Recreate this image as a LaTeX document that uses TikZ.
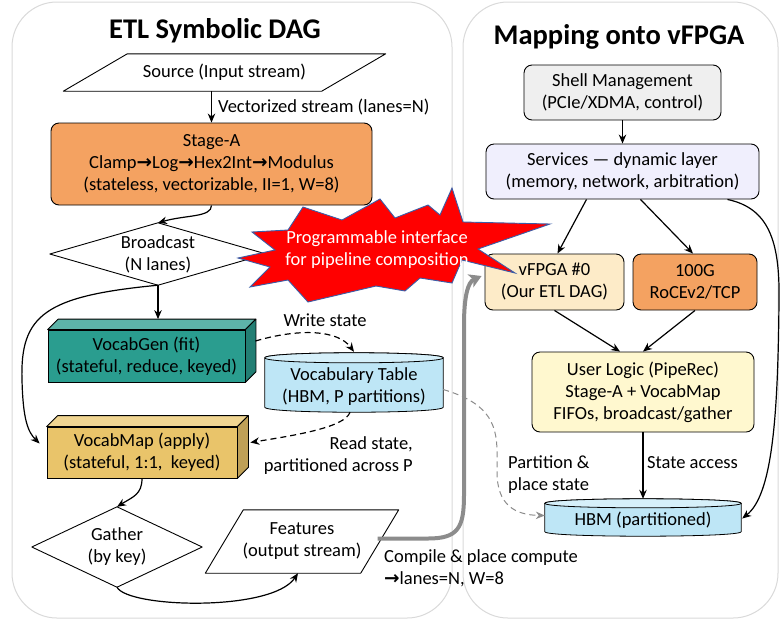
\documentclass[tikz,border=0pt]{standalone}
\usepackage{fontspec}
\setmainfont{Carlito}
\newfontfamily\symfont{DejaVu Sans}
\usetikzlibrary{arrows.meta,calc}

\definecolor{panelline}{HTML}{D9D9D9}
\definecolor{stageorange}{HTML}{F4A261}
\definecolor{tealfront}{HTML}{2A9D8F}
\definecolor{tealtop}{HTML}{5DB4A9}
\definecolor{tealside}{HTML}{237F74}
\definecolor{goldfront}{HTML}{E9C46A}
\definecolor{goldtop}{HTML}{F0D592}
\definecolor{goldside}{HTML}{BFA057}
\definecolor{tableblue}{HTML}{BEE6F6}
\definecolor{tabletop}{HTML}{D6F0FA}
\definecolor{shellgray}{HTML}{EFEFEF}
\definecolor{servlav}{HTML}{F0EFFD}
\definecolor{vfpeach}{HTML}{FDEBC8}
\definecolor{userlemon}{HTML}{FFF8CF}
\definecolor{burstred}{HTML}{FF0000}
\definecolor{burstedge}{HTML}{3A5DA8}
\definecolor{compilegray}{HTML}{8C8C8C}

% right arrow glyph used inside labels
\newcommand\arrowglyph{{\symfont\bfseries →}}

% 3-D box: top and side faces added to a filled front node
% #1 node, #2 top colour, #3 side colour, #4 depth
\newcommand\drawcuboid[4]{%
  \filldraw[fill=#2, line width=0.8pt, line join=round]
    (#1.north west) -- ([xshift=#4,yshift=#4]#1.north west)
    -- ([xshift=#4,yshift=#4]#1.north east) -- (#1.north east) -- cycle;
  \filldraw[fill=#3, line width=0.8pt, line join=round]
    (#1.north east) -- ([xshift=#4,yshift=#4]#1.north east)
    -- ([xshift=#4,yshift=#4]#1.south east) -- (#1.south east) -- cycle;
}

% cylinder around a node: north/south edges are the end-ellipse axes
% #1 node, #2 body colour, #3 top colour, #4 control offset (4/3 of y radius)
\newcommand\drawcylinder[4]{%
  \filldraw[fill=#2, line width=0.8pt]
    (#1.north west) -- (#1.south west)
    .. controls ([yshift=-#4]#1.south west) and ([yshift=-#4]#1.south east) .. (#1.south east)
    -- (#1.north east)
    .. controls ([yshift=#4]#1.north east) and ([yshift=#4]#1.north west) .. (#1.north west) -- cycle;
  \filldraw[fill=#3, line width=0.8pt]
    (#1.north west)
    .. controls ([yshift=-#4]#1.north west) and ([yshift=-#4]#1.north east) .. (#1.north east)
    .. controls ([yshift=#4]#1.north east) and ([yshift=#4]#1.north west) .. (#1.north west) -- cycle;
}

\begin{document}
\begin{tikzpicture}[x=1pt,y=-1pt,
  txt/.style={font=\fontsize{18.5}{22}\selectfont, align=center, inner sep=0pt},
  title/.style={font=\fontsize{28.5}{32}\selectfont\bfseries, inner sep=0pt},
  box/.style={txt, draw, line width=0.9pt, rounded corners=8pt},
  panel/.style={draw=panelline, line width=1pt, rounded corners=45pt},
  arr/.style={line width=1.2pt, -{Stealth[length=9pt,width=7.5pt]}},
  dasharr/.style={arr, dash pattern=on 6pt off 4pt},
  grayarr/.style={draw=compilegray, line width=1pt, dash pattern=on 6pt off 4pt,
    -{Stealth[length=9pt,width=7.5pt]}, compilegray},
  compilearr/.style={draw=compilegray, line width=4pt,
    -{Stealth[length=12pt,width=14pt,inset=3pt]}, compilegray},
  outline/.style={line width=0.9pt, line join=round}
]
\useasboundingbox (0,0) rectangle (781,622);

% ---------- panels ----------
\draw[panel] (12,2) rectangle (452,618);
\draw[panel] (463,2) rectangle (778,618);
\node[title] (titleL) at (215,31) {ETL Symbolic DAG};
\node[title] (titleR) at (619,37) {Mapping onto vFPGA};

% ---------- left: ETL DAG ----------
% source parallelogram
\node[txt, minimum width=258, minimum height=37] (src) at (224.5,72.5) {Source (Input stream)};
\draw[outline] ([xshift=32pt]src.north west) -- ([xshift=32pt]src.north east)
  -- ([xshift=-32pt]src.south east) -- ([xshift=-32pt]src.south west) -- cycle;

\node[box, fill=stageorange, minimum width=321, minimum height=82] (sa) at (211.5,164)
  {Stage-A\\Clamp\arrowglyph Log\arrowglyph Hex2Int\arrowglyph Modulus\\(stateless, vectorizable, II=1, W=8)};

% broadcast diamond
\node[txt, minimum width=216, minimum height=62] (bc) at (158,254) {Broadcast\\(N lanes)};
\draw[outline] (bc.west) -- (bc.north) -- (bc.east) -- (bc.south) -- cycle;

% VocabGen cuboid
\node[txt, draw, line width=0.8pt, fill=tealfront, minimum width=197, minimum height=52] (vg) at (146.5,356)
  {VocabGen (fit)\\(stateful, reduce, keyed)};
\drawcuboid{vg}{tealtop}{tealside}{10.5pt}
\coordinate (vgtop) at ([yshift=10.5pt]vg.north);

% Vocabulary table cylinder
\node[minimum width=178, minimum height=49, inner sep=0pt] (vt) at (354,382.5) {};
\drawcylinder{vt}{tableblue}{tabletop}{6.7pt}
\node[txt] (vtl) at (354,387) {Vocabulary Table\\(HBM, P partitions)};

% VocabMap cuboid
\node[txt, draw, line width=0.8pt, fill=goldfront, minimum width=190, minimum height=51] (vm) at (142,452.5)
  {VocabMap (apply)\\(stateful, 1:1,\ \ keyed)};
\drawcuboid{vm}{goldtop}{goldside}{11pt}

% gather diamond
\node[txt, minimum width=170, minimum height=80] (ga) at (117,547) {Gather\\(by key)};
\draw[outline] (ga.west) -- (ga.north) -- (ga.east) -- (ga.south) -- cycle;

% features parallelogram
\node[txt, minimum width=155, minimum height=63] (fe) at (302,541.5) {Features\\(output stream)};
\draw[outline] ([xshift=19pt]fe.north west) -- ([xshift=19pt]fe.north east)
  -- ([xshift=-19pt]fe.south east) -- ([xshift=-19pt]fe.south west) -- cycle;

% ---------- right: vFPGA mapping ----------
\node[box, fill=shellgray, minimum width=197, minimum height=55] (sh) at (622.5,92.5)
  {Shell Management\\(PCIe/XDMA, control)};
\node[box, fill=servlav, minimum width=273, minimum height=55] (sv) at (622.5,171.5)
  {Services --- dynamic layer\\(memory, network, arbitration)};
\node[box, fill=vfpeach, minimum width=139, minimum height=56] (vf) at (554.5,282)
  {vFPGA \#0\\(Our ETL DAG)};
\node[box, fill=stageorange, minimum width=124, minimum height=56] (net) at (695,282)
  {100G\\RoCEv2/TCP};
\node[box, fill=userlemon, minimum width=222, minimum height=80] (ul) at (643,392)
  {User Logic (PipeRec)\\Stage-A + VocabMap\\FIFOs, broadcast/gather};
\node[minimum width=196, minimum height=28, inner sep=0pt] (hbm) at (643,517.5) {};
\drawcylinder{hbm}{tableblue}{tabletop}{6pt}
\node[txt] (hbml) at (643,520) {HBM (partitioned)};

% ---------- connectors, left ----------
\draw[arr] (src.south -| sa.north) -- (sa.north);
\node[txt, anchor=west] (lvec) at (218,107) {Vectorized stream (lanes=N)};

\draw[arr] (sa.south) .. controls +(0,12) and +(28,-8) .. (bc.north);
\draw[arr] (bc.south) -- (bc.south |- vgtop);
\draw[arr] (bc.south) .. controls (45,296) and (20,315) .. (22,380)
  .. controls (23,420) and (28,432) .. ([xshift=-7pt,yshift=9pt]vm.west);

\draw[dasharr] ([xshift=10pt,yshift=15pt]vg.east) .. controls (300,328) and (338,330) .. ([yshift=6pt]vt.north);
\node[txt] (lwrite) at (325,320) {Write state};

\draw[dasharr] ([xshift=-4pt,yshift=-5pt]vt.south) .. controls (345,428) and (290,436) .. ([xshift=13pt,yshift=10pt]vm.east);
\node[txt, anchor=east, align=right] (lread) at (413,456) {Read state,\\partitioned across P};

\draw[arr] (vm.south) .. controls +(0,16) and +(16,-10) .. (ga.north);
\draw[arr] (ga.south) .. controls (128,608) and (272,612) .. ([xshift=-4pt]fe.south);

% compile path to the vFPGA slot
\draw[compilearr] ([xshift=-2pt,yshift=3pt]fe.east) -- (428,538.5)
  .. controls (458,538.5) and (464,528) .. (464,495) -- (464,325)
  .. controls (464,296) and (468,282) .. ([xshift=-3pt,yshift=6pt]vf.west);
\node[txt, anchor=west, align=left] (lcomp) at (384,568.5) {Compile \& place compute\\\arrowglyph lanes=N, W=8};

% state placement into HBM
\draw[grayarr] ([yshift=-7pt]vt.east) .. controls (485,402) and (497,420) .. (497,452)
  -- (497,472) .. controls (497,505) and (515,515) .. ([yshift=2pt]hbm.west);
\node[txt, anchor=west, align=left] (lpart) at (508,474.5) {Partition \&\\place state};

% ---------- connectors, right ----------
\draw[arr] (sh.south) -- (sv.north);
\draw[arr] ([xshift=-36pt]sv.south) -- ([xshift=3pt]vf.north);
\draw[arr] ([xshift=18pt]sv.south) -- ([xshift=-2pt]net.north);
\draw[arr] (vf.south) -- ([xshift=-23pt]ul.north);
\draw[arr] (net.south) -- (ul.north);
\draw[arr] (ul.south) -- ([yshift=4.5pt]hbm.north);
\node[txt, anchor=west] (lstate) at (647,463) {State access};
\draw[arr] ([xshift=-32pt]sv.south east) .. controls (768,208) and (780,240) .. (779,300)
  .. controls (778,420) and (772,495) .. ([xshift=1pt,yshift=-1pt]hbm.east);

% ---------- callout burst ----------
\filldraw[fill=burstred, draw=burstedge, line width=0.9pt, line join=miter]
  (252,232) -- (288,230) -- (303,207) -- (342,220) -- (380,199) -- (395,218)
  -- (428,205) -- (440,215) -- (452,188) -- (463,222) -- (550,224) -- (478,249)
  -- (515,273) -- (462,260) -- (452,283) -- (420,278) -- (405,291) -- (376,286)
  -- (308,302) -- (288,280) -- (250,287) -- (270,267) -- (238,258) -- (275,250) -- cycle;
\node[txt, text=white] (burst) at (377,250) {Programmable interface\\for pipeline composition};

\end{tikzpicture}
\end{document}
